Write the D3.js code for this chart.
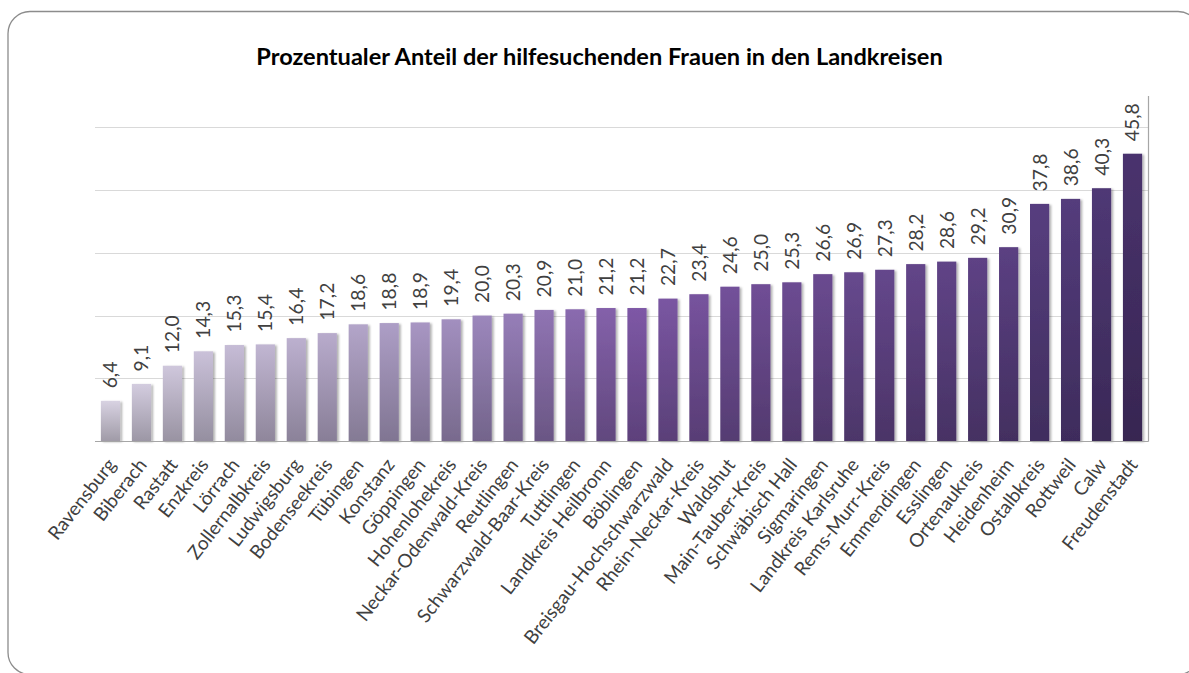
<!DOCTYPE html>
<html>
<head>
<meta charset="utf-8">
<script src="https://cdn.jsdelivr.net/npm/d3@7"></script>
<style>
	body { margin: 0; background: #fff; }
	text { font-family: Lato, "Open Sans", sans-serif; }
</style>
</head>
<body>
<svg id="chart" width="1189" height="673"></svg>
<script>
// data
var kreise = ['Ravensburg', 'Biberach', 'Rastatt', 'Enzkreis', 'Lörrach', 'Zollernalbkreis',
	'Ludwigsburg', 'Bodenseekreis', 'Tübingen', 'Konstanz', 'Göppingen', 'Hohenlohekreis',
	'Neckar-Odenwald-Kreis', 'Reutlingen', 'Schwarzwald-Baar-Kreis', 'Tuttlingen',
	'Landkreis Heilbronn', 'Böblingen', 'Breisgau-Hochschwarzwald', 'Rhein-Neckar-Kreis',
	'Waldshut', 'Main-Tauber-Kreis', 'Schwäbisch Hall', 'Sigmaringen', 'Landkreis Karlsruhe',
	'Rems-Murr-Kreis', 'Emmendingen', 'Esslingen', 'Ortenaukreis', 'Heidenheim',
	'Ostalbkreis', 'Rottweil', 'Calw', 'Freudenstadt'];
var anteil = [6.4, 9.1, 12.0, 14.3, 15.3, 15.4, 16.4, 17.2, 18.6, 18.8, 18.9, 19.4,
	20.0, 20.3, 20.9, 21.0, 21.2, 21.2, 22.7, 23.4, 24.6, 25.0, 25.3, 26.6, 26.9,
	27.3, 28.2, 28.6, 29.2, 30.9, 37.8, 38.6, 40.3, 45.8];
var gridTicks = [10, 20, 30, 40, 50];
var titel = 'Prozentualer Anteil der hilfesuchenden Frauen in den Landkreisen';

var svg = d3.select('#chart');
var plot = {left: 95, right: 1148, top: 96, bottom: 441};

// outer frame
svg.append('rect')
	.attr('x', 8)
	.attr('y', 11.5)
	.attr('width', 1192)
	.attr('height', 663)
	.attr('rx', 22)
	.attr('fill', '#fff')
	.attr('stroke', '#8c8c8c')
	.attr('stroke-width', 1.3);

var x = d3.scaleBand()
	.domain(kreise)
	.range([plot.left, plot.right])
	.paddingInner(0.38)
	.paddingOuter(0.19);

var y = d3.scaleLinear()
	.domain([0, 55])
	.range([plot.bottom, plot.top]);

// colour of each bar top, light lavender -> purple -> dark
var farbe = d3.scaleLinear()
	.domain([0, 8, 12, 17, 22, 28, 31, 33])
	.range(['#d8d2e2', '#b3a5c9', '#9c87bc', '#7e58a6', '#6c4c92', '#5e4285', '#543c7c', '#4a336e'])
	.interpolate(d3.interpolateRgb);

var defs = svg.append('defs');
defs.append('filter')
	.attr('id', 'schatten')
	.attr('x', '-20%').attr('y', '-5%')
	.attr('width', '150%').attr('height', '115%')
	.append('feDropShadow')
	.attr('dx', 2).attr('dy', 1)
	.attr('stdDeviation', 1.3)
	.attr('flood-color', '#000')
	.attr('flood-opacity', 0.3);

kreise.forEach(function(k, i){
	var top = d3.color(farbe(i));
	var g = defs.append('linearGradient')
		.attr('id', 'grad' + i)
		.attr('x1', 0).attr('y1', 0)
		.attr('x2', 0).attr('y2', 1);
	g.append('stop').attr('offset', '0%').attr('stop-color', top.formatHex());
	g.append('stop').attr('offset', '100%').attr('stop-color', top.darker(0.85).formatHex());
});

// gridlines
svg.append('g')
	.attr('class', 'grid')
	.selectAll('line')
	.data(gridTicks)
	.enter()
	.append('line')
	.attr('x1', plot.left)
	.attr('x2', plot.right)
	.attr('y1', function(d){ return Math.round(y(d)) + 0.5; })
	.attr('y2', function(d){ return Math.round(y(d)) + 0.5; })
	.attr('stroke', '#d9d9d9')
	.attr('stroke-width', 1);

// bars
svg.append('g')
	.attr('id', 'bars')
	.selectAll('rect')
	.data(anteil)
	.enter()
	.append('rect')
	.attr('x', function(d, i){ return x(kreise[i]); })
	.attr('y', function(d){ return y(d); })
	.attr('width', x.bandwidth())
	.attr('height', function(d){ return y(0) - y(d); })
	.attr('fill', function(d, i){ return 'url(#grad' + i + ')'; })
	.attr('filter', 'url(#schatten)');

// axis lines: baseline and right vertical line
svg.append('line')
	.attr('x1', plot.left).attr('x2', plot.right + 0.5)
	.attr('y1', plot.bottom + 0.5).attr('y2', plot.bottom + 0.5)
	.attr('stroke', '#a6a6a6').attr('stroke-width', 1.2);
svg.append('line')
	.attr('x1', plot.right + 0.5).attr('x2', plot.right + 0.5)
	.attr('y1', plot.top).attr('y2', plot.bottom + 0.5)
	.attr('stroke', '#a6a6a6').attr('stroke-width', 1.2);

// helper: font size so that a text gets a wanted length
var fitSize = function(str, weight, wanted){
	var t = svg.append('text')
		.attr('font-size', 20)
		.attr('font-weight', weight)
		.text(str);
	var len = t.node().getComputedTextLength();
	t.remove();
	return 20 * wanted / len;
};

// value labels
var valSize = fitSize('45,8', 'normal', 38);
svg.append('g')
	.attr('id', 'values')
	.selectAll('text')
	.data(anteil)
	.enter()
	.append('text')
	.attr('transform', function(d, i){
		return 'translate(' + (x(kreise[i]) + x.bandwidth() / 2) + ',' + (y(d) - 12.5) + ') rotate(-90)';
	})
	.attr('dy', '0.36em')
	.attr('font-size', valSize)
	.attr('fill', '#404040')
	.text(function(d){ return d3.format('.1f')(d).replace('.', ','); });

// category labels
var catSize = fitSize('Breisgau-Hochschwarzwald', 'normal', 229);
svg.append('g')
	.attr('id', 'cats')
	.selectAll('text')
	.data(kreise)
	.enter()
	.append('text')
	.attr('transform', function(d){
		return 'translate(' + (x(d) + x.bandwidth() / 2 + 1) + ',' + 461 + ') rotate(-52)';
	})
	.attr('dy', '0.35em')
	.attr('text-anchor', 'end')
	.attr('font-size', catSize)
	.attr('fill', '#404040')
	.text(function(d){ return d; });

// title
var titleSize = fitSize(titel, 'bold', 687);
svg.append('text')
	.attr('x', 599.5)
	.attr('y', 65)
	.attr('text-anchor', 'middle')
	.attr('font-size', titleSize)
	.attr('font-weight', 'bold')
	.attr('fill', '#000')
	.text(titel);
</script>
</body>
</html>
